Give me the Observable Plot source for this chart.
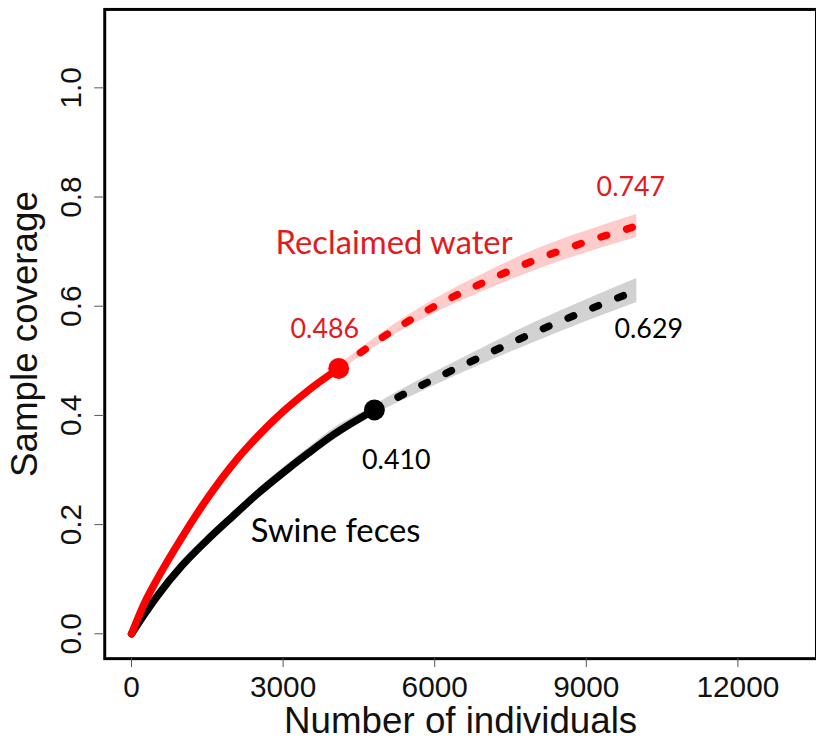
<!DOCTYPE html>
<html><head><meta charset="utf-8">
<script src="https://cdn.jsdelivr.net/npm/d3@7"></script>
<script src="https://cdn.jsdelivr.net/npm/@observablehq/plot@0.6"></script>
<style>html,body{margin:0;padding:0;overflow:hidden;background:#fff}</style>
</head><body><div id="chart"></div>
<script>
// Axis ticks
const xTicks = [0, 3000, 6000, 9000, 12000];
const yTicks = [0, 0.2, 0.4, 0.6, 0.8, 1.0];
const yTickLabels = ["0.0", "0.2", "0.4", "0.6", "0.8", "1.0"];

// Reclaimed water (red): interpolated part, extrapolated part, CI band
const rwN       = [0, 250, 500, 1000, 1500, 2000, 2500, 3000, 3500, 4100];
const rwCov     = [0, 0.055, 0.099, 0.177, 0.248, 0.310, 0.362, 0.407, 0.446, 0.486];
const rwExtN    = [4100, 5000, 6000, 7000, 8000, 9000, 10000];
const rwExtCov  = [0.486, 0.545, 0.600, 0.645, 0.685, 0.718, 0.747];
const rwBandN   = [0, 250, 500, 1000, 1500, 2000, 2500, 3000, 3500, 4100, 5000, 6000, 7000, 8000, 9000, 10000];
const rwLo      = [0, 0.052, 0.095, 0.172, 0.242, 0.303, 0.355, 0.400, 0.440, 0.480, 0.536, 0.587, 0.629, 0.666, 0.698, 0.726];
const rwHi      = [0, 0.058, 0.103, 0.182, 0.254, 0.317, 0.369, 0.414, 0.452, 0.492, 0.554, 0.613, 0.661, 0.704, 0.738, 0.768];

// Swine feces (black)
const sfN       = [0, 250, 500, 1000, 1500, 2000, 2500, 3000, 3500, 4000, 4807];
const sfCov     = [0, 0.035, 0.068, 0.125, 0.172, 0.215, 0.257, 0.295, 0.331, 0.365, 0.410];
const sfExtN    = [4807, 5000, 6000, 7000, 8000, 9000, 10000];
const sfExtCov  = [0.410, 0.420, 0.467, 0.511, 0.553, 0.592, 0.629];
const sfBandN   = [0, 250, 500, 1000, 1500, 2000, 2500, 3000, 3500, 4000, 4807, 5000, 6000, 7000, 8000, 9000, 10000];
const sfLo      = [0, 0.032, 0.064, 0.120, 0.166, 0.208, 0.249, 0.286, 0.321, 0.354, 0.402, 0.411, 0.455, 0.496, 0.535, 0.572, 0.607];
const sfHi      = [0, 0.038, 0.072, 0.130, 0.178, 0.222, 0.265, 0.304, 0.341, 0.376, 0.418, 0.429, 0.479, 0.526, 0.571, 0.612, 0.651];

// Series labels (data coordinates)
const seriesNames = ["Reclaimed water", "Swine feces"];
const seriesLabelN = [5196, 2358];
const seriesLabelCov = [0.696, 0.169];

const RED = "#ff0000", RED_TXT = "#e3191e", BLACK = "#000000";
const AX_FONT = "'Liberation Sans', Arial, Helvetica, sans-serif";
const ANN_FONT = "Lato, 'Open Sans', sans-serif";

const zip = (ns, cs) => ns.map((n, i) => ({n, c: cs[i]}));
const band = (ns, lo, hi) => ns.map((n, i) => ({n, lo: lo[i], hi: hi[i]}));

const rwI = zip(rwN, rwCov), rwE = zip(rwExtN, rwExtCov);
const sfI = zip(sfN, sfCov), sfE = zip(sfExtN, sfExtCov);
const rwRef = [rwI[rwI.length - 1]], sfRef = [sfI[sfI.length - 1]];
const rwEnd = [rwE[rwE.length - 1]], sfEnd = [sfE[sfE.length - 1]];

const chart = Plot.plot({
  width: 822, height: 746,
  marginLeft: 105, marginRight: 0, marginTop: 9, marginBottom: 83,
  x: {domain: [-530.5, 13556], axis: null},
  y: {domain: [-0.0455, 1.1436], axis: null},
  style: {background: "#fff", overflow: "visible"},
  marks: [
    Plot.areaY(band(rwBandN, rwLo, rwHi), {x: "n", y1: "lo", y2: "hi", fill: "#ffcccc", curve: "monotone-x"}),
    Plot.areaY(band(sfBandN, sfLo, sfHi), {x: "n", y1: "lo", y2: "hi", fill: "#d2d2d2", curve: "monotone-x"}),
    Plot.line(sfI, {x: "n", y: "c", stroke: BLACK, strokeWidth: 7.5, strokeLinecap: "round", curve: "monotone-x"}),
    Plot.line(sfE, {x: "n", y: "c", stroke: BLACK, strokeWidth: 7.5, strokeLinecap: "round", strokeDasharray: "6,21", curve: "monotone-x"}),
    Plot.line(rwI, {x: "n", y: "c", stroke: RED, strokeWidth: 7.5, strokeLinecap: "round", curve: "monotone-x"}),
    Plot.line(rwE, {x: "n", y: "c", stroke: RED, strokeWidth: 7.5, strokeLinecap: "round", strokeDasharray: "6,21", curve: "monotone-x"}),
    Plot.dot(rwRef, {x: "n", y: "c", r: 10.5, fill: RED}),
    Plot.dot(sfRef, {x: "n", y: "c", r: 10.5, fill: BLACK}),
    Plot.frame({stroke: BLACK, strokeWidth: 3}),
    Plot.axisX({ticks: xTicks, tickSize: 9, tickPadding: 8, fontSize: 30, fontFamily: AX_FONT,
      tickFormat: d => String(d), stroke: "#555", fill: "#111", label: null}),
    Plot.axisY({ticks: yTicks, tickSize: 10, tickFormat: () => "", stroke: "#555", label: null}),
    Plot.text(yTicks, {y: d => d, text: (d, i) => yTickLabels[i], frameAnchor: "left", rotate: -90,
      dx: -24, textAnchor: "middle", lineAnchor: "bottom", fontSize: 30, fontFamily: AX_FONT, fill: "#111"}),
    Plot.text(["Number of individuals"], {frameAnchor: "bottom", dy: 75, textAnchor: "middle", lineAnchor: "bottom",
      fontSize: 37, fontFamily: AX_FONT, fill: "#111"}),
    Plot.text(["Sample coverage"], {frameAnchor: "left", rotate: -90, dx: -68, textAnchor: "middle", lineAnchor: "bottom",
      fontSize: 37, fontFamily: AX_FONT, fill: "#111"}),
    // series labels
    Plot.text([0], {x: () => seriesLabelN[0], y: () => seriesLabelCov[0], text: () => seriesNames[0],
      textAnchor: "middle", lineAnchor: "bottom", fontSize: 33, fontFamily: ANN_FONT, fill: RED_TXT}),
    Plot.text([1], {x: () => seriesLabelN[1], y: () => seriesLabelCov[1], text: () => seriesNames[1],
      textAnchor: "start", lineAnchor: "bottom", fontSize: 33, fontFamily: ANN_FONT, fill: BLACK}),
    // value labels
    Plot.text(rwRef, {x: "n", y: "c", text: d => d.c.toFixed(3), dx: -14, dy: -31, lineAnchor: "bottom",
      fontSize: 27, fontFamily: ANN_FONT, fill: RED_TXT}),
    Plot.text(sfRef, {x: "n", y: "c", text: d => d.c.toFixed(3), dx: 22, dy: 59, lineAnchor: "bottom",
      fontSize: 27, fontFamily: ANN_FONT, fill: BLACK}),
    Plot.text(rwEnd, {x: "n", y: "c", text: d => d.c.toFixed(3), dx: -6, dy: -30, lineAnchor: "bottom",
      fontSize: 27, fontFamily: ANN_FONT, fill: RED_TXT}),
    Plot.text(sfEnd, {x: "n", y: "c", text: d => d.c.toFixed(3), dx: 12, dy: 48, lineAnchor: "bottom",
      fontSize: 27, fontFamily: ANN_FONT, fill: BLACK})
  ]
});
document.getElementById("chart").appendChild(chart);
</script>
</body></html>
